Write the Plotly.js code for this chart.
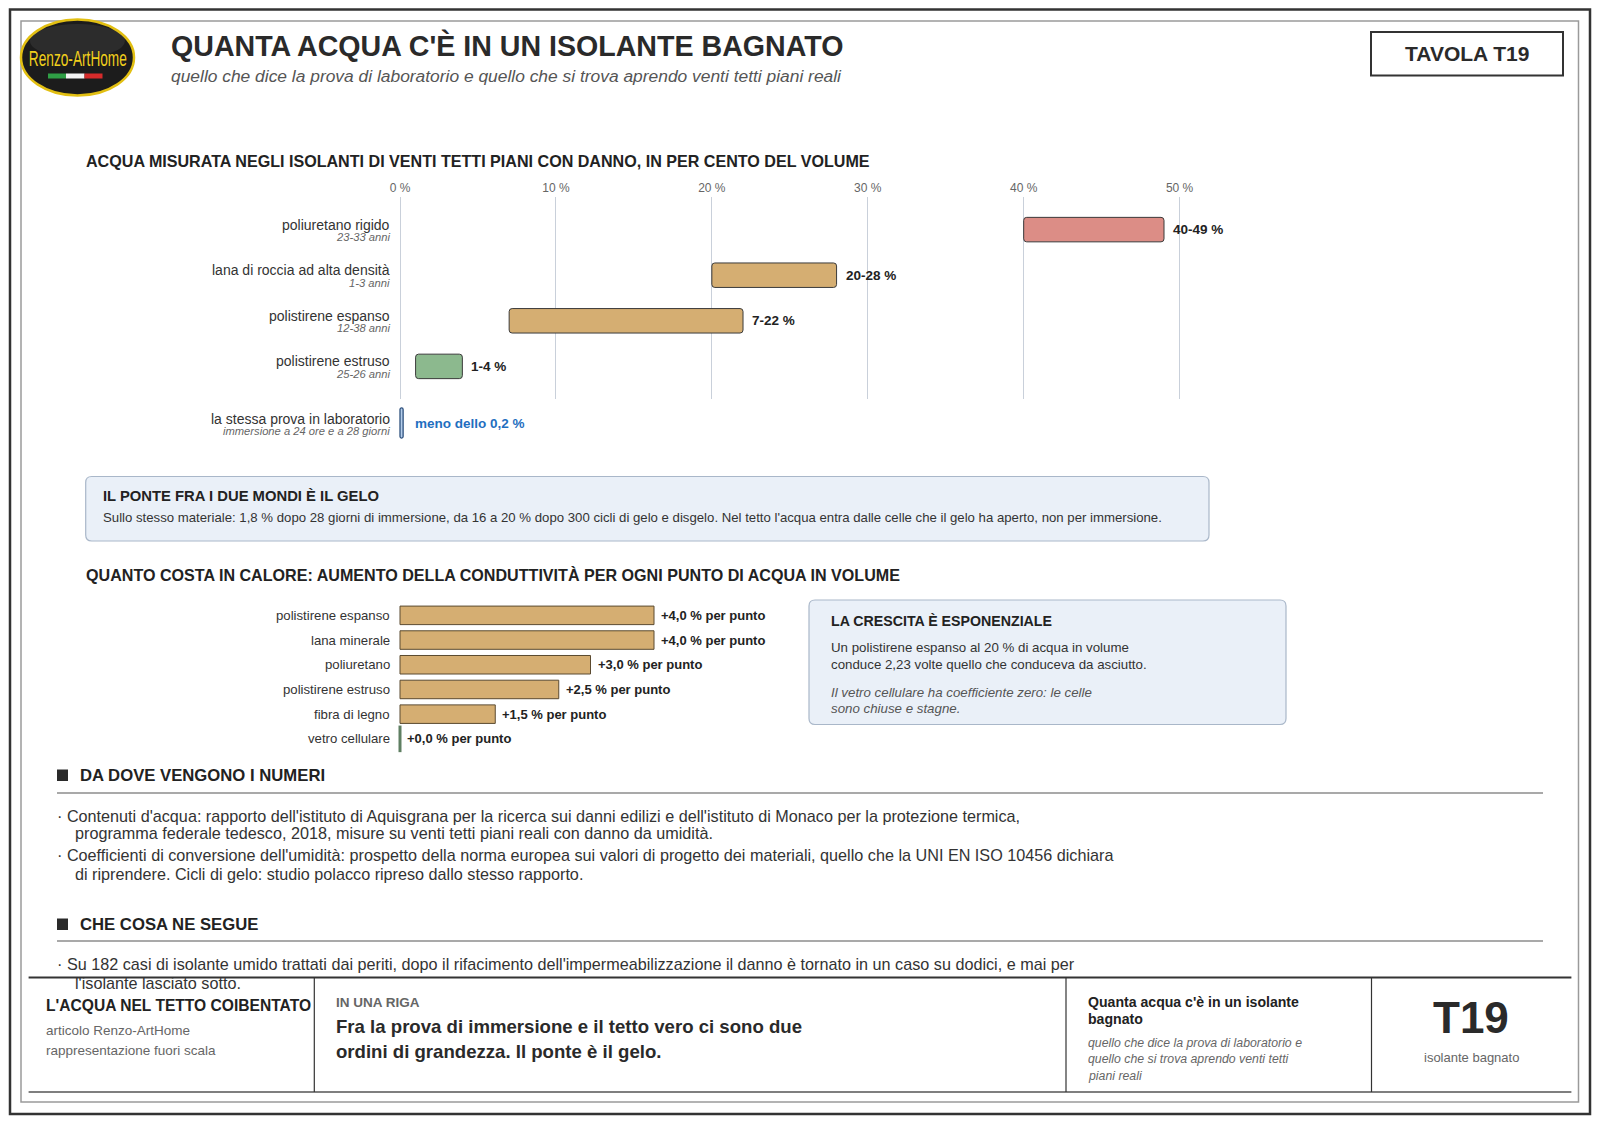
<!DOCTYPE html>
<html><head><meta charset="utf-8">
<script src="https://cdn.plot.ly/plotly-3.0.1.min.js"></script>
<style>html,body{margin:0;padding:0;background:#fff}#chart{width:1600px;height:1124px}</style>
</head><body><div id="chart"></div>
<script>
// ---------------- DATA ----------------
const rangeMaterials = ['poliuretano rigido','lana di roccia ad alta densità','polistirene espanso','polistirene estruso'];
const rangeAges = ['23-33 anni','1-3 anni','12-38 anni','25-26 anni'];
const rangeLow = [40, 20, 7, 1];
const rangeHigh = [49, 28, 22, 4];
const rangeColors = ['#dc8d86','#d5ae72','#d5ae72','#8cb98e'];
const labCategory = ['la stessa prova in laboratorio'];
const labNote = ['immersione a 24 ore e a 28 giorni'];
const labLow = [0];
const labHigh = [0.2];
const labText = ['meno dello 0,2 %'];
const axisTicks = [0, 10, 20, 30, 40, 50];
const condMaterials = ['polistirene espanso','lana minerale','poliuretano','polistirene estruso','fibra di legno','vetro cellulare'];
const condValues = [4.0, 4.0, 3.0, 2.5, 1.5, 0.0];
const notes1 = [
 ["· Contenuti d'acqua: rapporto dell'istituto di Aquisgrana per la ricerca sui danni edilizi e dell'istituto di Monaco per la protezione termica,", "programma federale tedesco, 2018, misure su venti tetti piani reali con danno da umidità."],
 ["· Coefficienti di conversione dell'umidità: prospetto della norma europea sui valori di progetto dei materiali, quello che la UNI EN ISO 10456 dichiara", "di riprendere. Cicli di gelo: studio polacco ripreso dallo stesso rapporto."]
];
const notes2 = [
 ["· Su 182 casi di isolante umido trattati dai periti, dopo il rifacimento dell'impermeabilizzazione il danno è tornato in un caso su dodici, e mai per", "l'isolante lasciato sotto."]
];

// ---------------- HELPERS ----------------
const W = 1600, H = 1124;
const X = v => v / W, Y = v => 1 - v / H;
const FONT = '"Liberation Sans", Arial, Helvetica, sans-serif';
function txt(x, y, text, size, opts) {
  opts = opts || {};
  const a = Object.assign({
    xref: 'paper', yref: 'paper', x: X(x - 2), y: Y(y), text: text, showarrow: false,
    xanchor: 'left', yanchor: 'middle', align: 'left',
    font: {family: FONT, size: size, color: opts.color || '#2a2a2a'}
  }, opts.extra || {});
  if (a.xanchor === 'center') a.x = X(x);
  return a;
}
function rect(x0, y0, x1, y1, line, fill) {
  return {type: 'rect', xref: 'paper', yref: 'paper', x0: X(x0), x1: X(x1), y0: Y(y1), y1: Y(y0),
    line: line || {width: 0}, fillcolor: fill || 'rgba(0,0,0,0)'};
}
function hline(x0, x1, y, color, width) {
  return {type: 'line', xref: 'paper', yref: 'paper', x0: X(x0), x1: X(x1), y0: Y(y), y1: Y(y), line: {color: color, width: width}};
}
function vline(x, y0, y1, color, width) {
  return {type: 'line', xref: 'paper', yref: 'paper', x0: X(x), x1: X(x), y0: Y(y0), y1: Y(y1), line: {color: color, width: width}};
}
function rr(x0, y0, x1, y1, r, line, fill) {
  const p = `M${X(x0+r)},${Y(y0)} L${X(x1-r)},${Y(y0)} Q${X(x1)},${Y(y0)} ${X(x1)},${Y(y0+r)} L${X(x1)},${Y(y1-r)} Q${X(x1)},${Y(y1)} ${X(x1-r)},${Y(y1)} L${X(x0+r)},${Y(y1)} Q${X(x0)},${Y(y1)} ${X(x0)},${Y(y1-r)} L${X(x0)},${Y(y0+r)} Q${X(x0)},${Y(y0)} ${X(x0+r)},${Y(y0)} Z`;
  return {type: 'path', xref: 'paper', yref: 'paper', path: p, line: line, fillcolor: fill, layer: 'below'};
}

// ---------------- GEOMETRY ----------------
const s1 = 15.592, zero1 = 400;
const r1 = [-0.4, 52.5];
const dom1 = [X(zero1 + r1[0]*s1), X(zero1 + r1[1]*s1)];
const s2 = 63.5, zero2 = 400;
const r2 = [-0.1, 6];
const dom2 = [X(zero2 + r2[0]*s2), X(zero2 + r2[1]*s2)];

// ---------------- TRACES ----------------
const traces = [
  {type: 'bar', orientation: 'h', y: rangeMaterials, base: rangeLow,
   x: rangeHigh.map((h, i) => h - rangeLow[i]), width: 0.537,
   marker: {color: rangeColors, line: {color: '#3b3b3b', width: 1}, cornerradius: 3},
   xaxis: 'x', yaxis: 'y', hoverinfo: 'skip'},
  {type: 'bar', orientation: 'h', y: labCategory, base: labLow,
   x: labHigh.map((h, i) => h - labLow[i]), width: 0.94,
   marker: {color: '#b4cdea', line: {color: '#2c4f7c', width: 1.3}, cornerradius: 1.5},
   xaxis: 'x3', yaxis: 'y3', hoverinfo: 'skip'},
  {type: 'bar', orientation: 'h', y: condMaterials, x: condValues, width: 0.75,
   marker: {color: '#d5ae72', line: {color: '#5b4a30', width: 1}},
   xaxis: 'x2', yaxis: 'y2', hoverinfo: 'skip'},
  {type: 'scatter', mode: 'markers', cliponaxis: false,
   x: condValues.filter(v => v === 0), y: condMaterials.filter((m, i) => condValues[i] === 0),
   marker: {symbol: 'line-ns', size: 19, color: '#5f7f62', line: {color: '#5f7f62', width: 3}},
   xaxis: 'x2', yaxis: 'y2', hoverinfo: 'skip'}
];

// ---------------- ANNOTATIONS ----------------
const ann = [];
ann.push(txt(171.4, 45, "<b>QUANTA ACQUA C'È IN UN ISOLANTE BAGNATO</b>", 28.6, {color: '#2a2a2a'}));
ann.push(txt(171.4, 76.5, "<i>quello che dice la prova di laboratorio e quello che si trova aprendo venti tetti piani reali</i>", 17.4, {color: '#555'}));
ann.push(txt(1467, 53.7, "<b>TAVOLA T19</b>", 21, {color: '#2a2a2a', extra: {xanchor: 'center'}}));
const logoAnn = txt(77.5, 58.5, "Renzo-ArtHome", 22, {color: '#f0cf1c', extra: {xanchor: 'center', align: 'center'}});
ann.push(logoAnn);

// chart 1
ann.push(txt(86, 161, "<b>ACQUA MISURATA NEGLI ISOLANTI DI VENTI TETTI PIANI CON DANNO, IN PER CENTO DEL VOLUME</b>", 16.1, {color: '#222'}));
rangeMaterials.forEach((m, i) => {
  ann.push({xref: 'paper', yref: 'y', x: X(392), y: m, text: m, showarrow: false, xanchor: 'right', yanchor: 'middle', yshift: 5,
    font: {family: FONT, size: 14, color: '#333'}});
  ann.push({xref: 'paper', yref: 'y', x: X(392), y: m, text: '<i>' + rangeAges[i] + '</i>', showarrow: false, xanchor: 'right', yanchor: 'middle', yshift: -7.5,
    font: {family: FONT, size: 11.2, color: '#666'}});
  ann.push({xref: 'x', yref: 'y', x: rangeHigh[i], y: m, text: '<b>' + rangeLow[i] + '-' + rangeHigh[i] + ' %</b>', showarrow: false,
    xanchor: 'left', yanchor: 'middle', xshift: 7, font: {family: FONT, size: 13.5, color: '#222'}});
});
labCategory.forEach((m, i) => {
  ann.push({xref: 'paper', yref: 'y3', x: X(392), y: m, text: m, showarrow: false, xanchor: 'right', yanchor: 'middle', yshift: 4,
    font: {family: FONT, size: 14, color: '#333'}});
  ann.push({xref: 'paper', yref: 'y3', x: X(392), y: m, text: '<i>' + labNote[i] + '</i>', showarrow: false, xanchor: 'right', yanchor: 'middle', yshift: -8,
    font: {family: FONT, size: 11.2, color: '#666'}});
  ann.push({xref: 'x3', yref: 'y3', x: labHigh[i], y: m, text: '<b>' + labText[i] + '</b>', showarrow: false,
    xanchor: 'left', yanchor: 'middle', xshift: 10, font: {family: FONT, size: 13.5, color: '#1f6fbf'}});
});

// box 1
ann.push(txt(103, 496, "<b>IL PONTE FRA I DUE MONDI È IL GELO</b>", 14.8, {color: '#222'}));
ann.push(txt(103, 517.5, "Sullo stesso materiale: 1,8 % dopo 28 giorni di immersione, da 16 a 20 % dopo 300 cicli di gelo e disgelo. Nel tetto l'acqua entra dalle celle che il gelo ha aperto, non per immersione.", 13.2, {color: '#333'}));

// chart 2
ann.push(txt(86, 575.5, "<b>QUANTO COSTA IN CALORE: AUMENTO DELLA CONDUTTIVITÀ PER OGNI PUNTO DI ACQUA IN VOLUME</b>", 16.1, {color: '#222'}));
condMaterials.forEach((m, i) => {
  ann.push({xref: 'paper', yref: 'y2', x: X(392), y: m, text: m, showarrow: false, xanchor: 'right', yanchor: 'middle',
    font: {family: FONT, size: 13.2, color: '#333'}});
  ann.push({xref: 'x2', yref: 'y2', x: condValues[i], y: m, text: '<b>+' + condValues[i].toFixed(1).replace('.', ',') + ' % per punto</b>', showarrow: false,
    xanchor: 'left', yanchor: 'middle', xshift: 5, font: {family: FONT, size: 13, color: '#222'}});
});
// box 2
ann.push(txt(830.6, 621.4, "<b>LA CRESCITA È ESPONENZIALE</b>", 14.2, {color: '#222'}));
ann.push(txt(830.6, 647, "Un polistirene espanso al 20 % di acqua in volume", 13.3, {color: '#333'}));
ann.push(txt(830.6, 664.3, "conduce 2,23 volte quello che conduceva da asciutto.", 13.3, {color: '#333'}));
ann.push(txt(830.6, 692.9, "<i>Il vetro cellulare ha coefficiente zero: le celle</i>", 13.3, {color: '#555'}));
ann.push(txt(830.6, 708.2, "<i>sono chiuse e stagne.</i>", 13.3, {color: '#555'}));

// sections
ann.push(txt(79.6, 775.5, "<b>DA DOVE VENGONO I NUMERI</b>", 16.7, {color: '#222'}));
const noteY1 = [[816, 833], [855, 873.5]];
notes1.forEach((n, i) => {
  ann.push(txt(57, noteY1[i][0], n[0], 16.2, {color: '#333'}));
  ann.push(txt(74.5, noteY1[i][1], n[1], 16.2, {color: '#333'}));
});
ann.push(txt(79.6, 924.5, "<b>CHE COSA NE SEGUE</b>", 16.7, {color: '#222'}));
notes2.forEach((n, i) => {
  ann.push(txt(57, 964, n[0], 16.2, {color: '#333'}));
  ann.push(txt(74.5, 982.6, n[1], 16.2, {color: '#333'}));
});

// footer
ann.push(txt(46, 1005, "<b>L'ACQUA NEL TETTO COIBENTATO</b>", 15.6, {color: '#222'}));
ann.push(txt(46, 1030.6, "articolo Renzo-ArtHome", 13.5, {color: '#666'}));
ann.push(txt(46, 1050, "rappresentazione fuori scala", 13.5, {color: '#666'}));
ann.push(txt(335.7, 1002, "<b>IN UNA RIGA</b>", 13.5, {color: '#666'}));
ann.push(txt(335.7, 1026.5, "<b>Fra la prova di immersione e il tetto vero ci sono due</b>", 18.6, {color: '#2a2a2a'}));
ann.push(txt(335.7, 1051, "<b>ordini di grandezza. Il ponte è il gelo.</b>", 18.6, {color: '#2a2a2a'}));
ann.push(txt(1087.8, 1002, "<b>Quanta acqua c'è in un isolante</b>", 14.1, {color: '#222'}));
ann.push(txt(1087.8, 1019, "<b>bagnato</b>", 14.1, {color: '#222'}));
ann.push(txt(1087.8, 1043, "<i>quello che dice la prova di laboratorio e</i>", 12.3, {color: '#666'}));
ann.push(txt(1087.8, 1059, "<i>quello che si trova aprendo venti tetti</i>", 12.3, {color: '#666'}));
ann.push(txt(1087.8, 1075.5, "<i>piani reali</i>", 12.3, {color: '#666'}));
ann.push(txt(1471.4, 1017.5, "<b>T19</b>", 44, {color: '#2a2a2a', extra: {xanchor: 'center'}}));
ann.push(txt(1471.4, 1057, "isolante bagnato", 13, {color: '#666', extra: {xanchor: 'center'}}));

// ---------------- SHAPES ----------------
const shapes = [
  rect(10, 9.5, 1590, 1114, {color: '#333', width: 2.5}),
  rect(21, 21, 1578.5, 1102, {color: '#9a9a9a', width: 1.5}),
  rect(1371, 32, 1563, 75.5, {color: '#333', width: 2}),
  {type: 'circle', xref: 'paper', yref: 'paper', x0: X(21), x1: X(134), y0: Y(95.5), y1: Y(19.5),
   fillcolor: '#1c1c1c', line: {color: '#e2bf12', width: 2.5}},
  {type: 'circle', xref: 'paper', yref: 'paper', x0: X(30), x1: X(125), y0: Y(58), y1: Y(24),
   fillcolor: 'rgba(255,255,255,0.07)', line: {width: 0}},
  rect(48, 73.5, 66, 78.5, {width: 0}, '#2f9e45'),
  rect(66, 73.5, 84.5, 78.5, {width: 0}, '#f4f4f4'),
  rect(84.5, 73.5, 102.5, 78.5, {width: 0}, '#d62b2b'),
  rr(85.7, 476.5, 1209, 541, 6, {color: '#a9b7c9', width: 1.2}, '#eaf0f8'),
  rr(809, 600, 1286, 724.5, 6, {color: '#a9b7c9', width: 1.2}, '#eaf0f8'),
  rect(57, 769.5, 68, 781, {width: 0}, '#2a2a2a'),
  hline(57, 1543, 793, '#555', 1.2),
  rect(57, 918.5, 68, 930, {width: 0}, '#2a2a2a'),
  hline(57, 1543, 941, '#555', 1.2),
  hline(28.6, 1571.4, 977.5, '#333', 2),
  hline(28.6, 1571.4, 1092, '#555', 1.5),
  vline(314.3, 977.5, 1092, '#333', 1.2),
  vline(1066, 977.5, 1092, '#333', 1.2),
  vline(1371.5, 977.5, 1092, '#333', 1.2)
];

// ---------------- LAYOUT ----------------
const hidden = {showgrid: false, zeroline: false, showline: false, showticklabels: false, ticks: ''};
const layout = {
  width: W, height: H, margin: {l: 0, r: 0, t: 0, b: 0},
  paper_bgcolor: '#fff', plot_bgcolor: 'rgba(0,0,0,0)', showlegend: false, hovermode: false,
  font: {family: FONT, color: '#333'}, barmode: 'overlay',
  xaxis: {domain: dom1, range: r1, anchor: 'y', side: 'top', tickmode: 'array', tickvals: axisTicks,
    ticktext: axisTicks.map(t => t + ' %'), showgrid: true, gridcolor: '#c9d0da', gridwidth: 1,
    zeroline: false, showline: false, ticks: '', ticklabelstandoff: 2, tickfont: {family: FONT, size: 12, color: '#666'}},
  yaxis: Object.assign({domain: [Y(399), Y(197)], anchor: 'x', type: 'category', categoryorder: 'array',
    categoryarray: rangeMaterials, range: [3.715, -0.715]}, hidden),
  xaxis3: Object.assign({domain: dom1, matches: 'x', anchor: 'y3'}, hidden),
  yaxis3: Object.assign({domain: [Y(439), Y(407)], anchor: 'x3', type: 'category', range: [0.5, -0.5]}, hidden),
  xaxis2: Object.assign({domain: dom2, range: r2, anchor: 'y2'}, hidden),
  yaxis2: Object.assign({domain: [Y(751.2), Y(603)], anchor: 'x2', type: 'category', categoryorder: 'array',
    categoryarray: condMaterials, range: [5.5, -0.5]}, hidden),
  shapes: shapes, annotations: ann
};
Plotly.newPlot('chart', traces, layout, {staticPlot: true, displayModeBar: false}).then(gd => {
  // condense the logo wordmark to its printed width
  gd.querySelectorAll('.annotation-text').forEach(t => {
    if (t.textContent === 'Renzo-ArtHome') {
      t.setAttribute('textLength', '98');
      t.setAttribute('lengthAdjust', 'spacingAndGlyphs');
    }
  });
});
</script></body></html>
